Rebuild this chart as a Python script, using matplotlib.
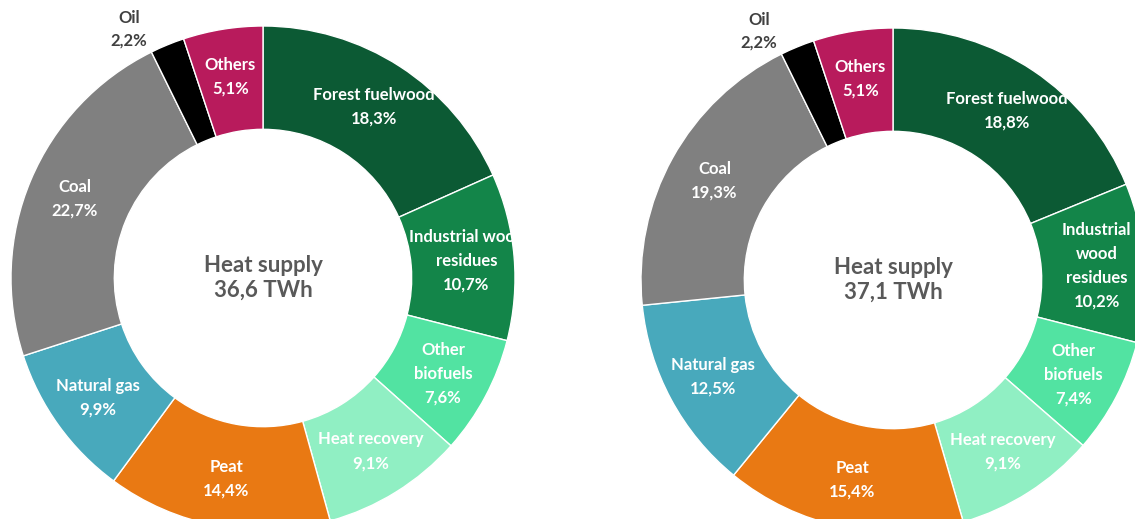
import matplotlib
matplotlib.use("Agg")
import matplotlib.pyplot as plt
import numpy as np

categories = ["Forest fuelwood", "Industrial wood residues", "Other biofuels",
              "Heat recovery", "Peat", "Natural gas", "Coal", "Oil", "Others"]
labels_left = ["Forest fuelwood", "Industrial wood\nresidues", "Other\nbiofuels",
               "Heat recovery", "Peat", "Natural gas", "Coal", "Oil", "Others"]
labels_right = ["Forest fuelwood", "Industrial\nwood\nresidues", "Other\nbiofuels",
                "Heat recovery", "Peat", "Natural gas", "Coal", "Oil", "Others"]
values_left = [18.3, 10.7, 7.6, 9.1, 14.4, 9.9, 22.7, 2.2, 5.1]
values_right = [18.8, 10.2, 7.4, 9.1, 15.4, 12.5, 19.3, 2.2, 5.1]
total_left = "36,6 TWh"
total_right = "37,1 TWh"

colors = ["#0c5a34", "#138549", "#52e3a2", "#90efc3", "#e97913",
          "#48a9bc", "#808080", "#000000", "#b81b5c"]

FONT = "Lato"
W, H = 1135, 519
fig = plt.figure(figsize=(W / 100, H / 100), dpi=100)

def donut(cx, cy, R, values, labels, total):
    ax = fig.add_axes([(cx - R) / W, (H - cy - R) / H, 2 * R / W, 2 * R / H])
    wedges, _ = ax.pie(values, colors=colors, startangle=90, counterclock=False,
                       radius=1.0,
                       wedgeprops=dict(width=0.41, edgecolor="white", linewidth=1.0))
    ax.set_xlim(-1, 1)
    ax.set_ylim(-1, 1)
    ax.set_aspect("equal")
    ax.axis("off")
    for w, lab, v in zip(wedges, labels, values):
        mid = np.deg2rad((w.theta1 + w.theta2) / 2)
        txt = f"{lab}\n{v:.1f}%".replace(".", ",")
        if lab == "Oil":
            ang = mid + np.deg2rad(6)
            r = 1.12
            ax.text(r * np.cos(ang), r * np.sin(ang), txt, ha="center", va="center",
                    color="#404040", fontsize=12, fontweight="bold", family=FONT,
                    linespacing=1.5, clip_on=False)
        else:
            r = 0.81
            ax.text(r * np.cos(mid), r * np.sin(mid), txt, ha="center", va="center",
                    color="white", fontsize=12, fontweight="bold", family=FONT,
                    linespacing=1.6, clip_on=False)
    ax.text(0, 0, f"Heat supply\n{total}", ha="center", va="center",
            color="#595959", fontsize=16, fontweight="bold", family=FONT,
            linespacing=1.25)
    return ax

donut(263, 278, 252, values_left, labels_left, total_left)
donut(893, 280, 252, values_right, labels_right, total_right)

fig.savefig("out.png", dpi=100, facecolor="white")
